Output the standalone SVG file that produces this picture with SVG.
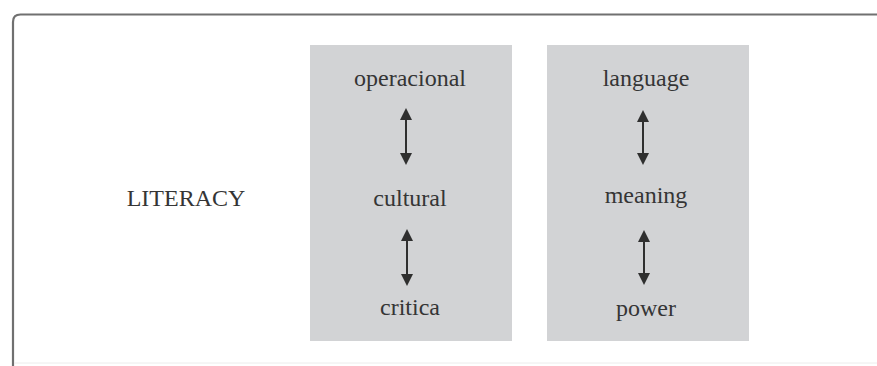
<svg xmlns="http://www.w3.org/2000/svg" width="877" height="366" viewBox="0 0 877 366">
  <defs>
    <marker id="head" markerUnits="userSpaceOnUse" markerWidth="12" markerHeight="12" refX="0" refY="6" orient="auto-start-reverse" viewBox="0 0 12 12">
      <path d="M0,0 L12,6 L0,12 Z" fill="#2f2f2f"/>
    </marker>
  </defs>
  <style>
    .frame { fill: none; stroke: #707070; stroke-width: 2.2; }
    .panel { fill: #d2d3d5; }
    .lbl { font-family: "Liberation Serif", "DejaVu Serif", serif; font-size: 24px; fill: #353535; text-anchor: middle; }
    .link { stroke: #2f2f2f; stroke-width: 2; fill: none; marker-start: url(#head); marker-end: url(#head); }
  </style>
  <rect width="877" height="366" fill="#ffffff"/>
  <!-- open frame: left edge and top edge with a rounded corner -->
  <path class="frame" d="M13,366 V22 Q13,14.5 20.5,14.5 H877"/>
  <line x1="14" y1="363" x2="877" y2="363" stroke="#ececec" stroke-width="1"/>

  <g id="literacy">
    <text class="lbl" x="186" y="206">LITERACY</text>
  </g>

  <g id="panel-left">
    <rect class="panel" x="310" y="45" width="202" height="296"/>
  </g>
  <g id="panel-right">
    <rect class="panel" x="547" y="45" width="202" height="296"/>
  </g>

  <g id="operacional"><text class="lbl" x="410" y="86">operacional</text></g>
  <g id="cultural"><text class="lbl" x="410" y="206">cultural</text></g>
  <g id="critica"><text class="lbl" x="410" y="315">critica</text></g>

  <g id="language"><text class="lbl" x="646" y="86">language</text></g>
  <g id="meaning"><text class="lbl" x="646" y="203">meaning</text></g>
  <g id="power"><text class="lbl" x="646" y="316">power</text></g>

  <g id="connectors">
    <line class="link" x1="406" y1="120" x2="406" y2="153"/>
    <line class="link" x1="407" y1="241" x2="407" y2="274"/>
    <line class="link" x1="643" y1="122" x2="643" y2="153"/>
    <line class="link" x1="644" y1="242" x2="644" y2="273"/>
  </g>
</svg>
